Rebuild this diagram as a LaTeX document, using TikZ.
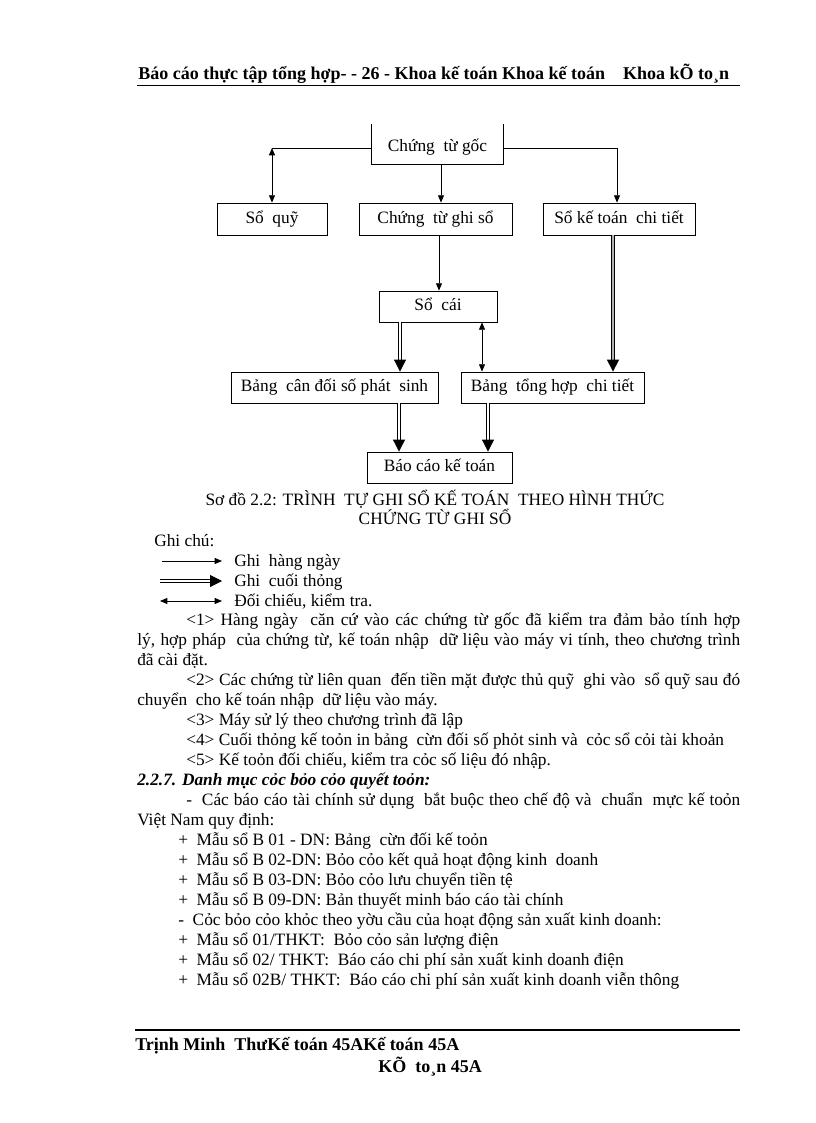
\documentclass[tikz,border=0pt]{standalone}
\usepackage{fontspec}
\setmainfont{Liberation Serif}
\usetikzlibrary{arrows.meta,calc}
\begin{document}
\begin{tikzpicture}[x=0.75pt,y=-0.75pt,
  box/.style={draw, line width=0.6pt, inner sep=0pt, text height=9pt, text depth=2.5pt, font=\fontsize{13}{15}\selectfont},
  nobox/.style={inner sep=0pt, text height=9pt, text depth=2.5pt, font=\fontsize{13}{15}\selectfont},
  plain/.style={line width=0.6pt},
  thinarr/.style={line width=0.6pt,-{Triangle[length=5.5pt,width=4.5pt]}},
  botharr/.style={line width=0.6pt,{Triangle[length=5.5pt,width=4.5pt]}-{Triangle[length=5.5pt,width=4.5pt]}},
  dblarr/.style={double, double distance=1.8pt, line width=0.6pt, -{Triangle[length=9pt,width=9pt]}},
  greyarr/.style={double=gray!60, double distance=1.6pt, line width=0.9pt, -{Triangle[length=9pt,width=9pt]}},
  txt/.style={anchor=base west, inner sep=0pt, font=\fontsize{13}{15}\selectfont},
  ctr/.style={anchor=base, inner sep=0pt, font=\fontsize{13}{15}\selectfont},
  hdr/.style={anchor=base west, inner sep=0pt, font=\fontsize{13.5}{16}\selectfont\bfseries},
]
\useasboundingbox (0,0) rectangle (816,1123);
\fill[white] (0,0) rectangle (816,1123);

% header
\node[hdr] (head) at (138,80) {Báo cáo thực tập tổng hợp- - 26 - Khoa kế toán Khoa kế toán\ \ \ \ Khoa kÕ to¸n};
\coordinate (hl1) at (137,85); \coordinate (hl2) at (740,85);
\draw[line width=0.6pt] (hl1) -- (hl2);

% diagram boxes
\node[nobox, minimum width=98.25pt, minimum height=24.75pt] (cg) at (437.5,147.5) {Chứng\ \ từ gốc};
\draw[plain] ([yshift=5pt]cg.north west) -- (cg.south west) -- (cg.south east) -- ([yshift=5pt]cg.north east);
\node[box, minimum width=82.5pt, minimum height=24pt] (sq) at (272,219) {Sổ\ \ quỹ};
\node[box, minimum width=114.75pt, minimum height=24pt] (ctgs) at (435.5,219) {Chứng\ \ từ ghi sổ};
\node[box, minimum width=114pt, minimum height=24pt] (sktct) at (619,219) {Sổ kế toán\ \ chi tiết};
\node[box, minimum width=88.5pt, minimum height=23.25pt] (sc) at (438,306.5) {Sổ\ \ cái};
\node[box, minimum width=155.25pt, minimum height=23.25pt] (bcd) at (334.5,387.5) {Bảng\ \ cân đối số phát\ \ sinh};
\node[box, minimum width=137.25pt, minimum height=23.25pt] (bth) at (552.5,387.5) {Bảng\ \ tổng hợp\ \ chi tiết};
\node[box, minimum width=108.75pt, minimum height=23.25pt] (bckt) at (439.5,467.5) {Báo cáo kế toán};

% connector coordinates
\coordinate (j1) at (272,148);
\coordinate (j2) at (441,0);
\coordinate (j3) at (617,148);
\coordinate (j4) at (439,0);
\coordinate (j5) at (400,0);
\coordinate (j6) at (482,0);
\coordinate (j7) at (613,0);
\coordinate (j8) at (399,0);
\coordinate (j9) at (488,0);

\draw[plain] (cg.west |- j1) -- (j1);
\draw[botharr] (j1) -- (j1 |- sq.north);
\draw[thinarr] (cg.south -| j2) -- (ctgs.north -| j2);
\draw[plain] (cg.east |- j3) -- (j3);
\draw[thinarr] (j3) -- (j3 |- sktct.north);
\draw[thinarr] (ctgs.south -| j4) -- (sc.north -| j4);
\draw[dblarr] (sc.south -| j5) -- (bcd.north -| j5);
\draw[botharr] (sc.south -| j6) -- (bth.north -| j6);
\draw[greyarr] (sktct.south -| j7) -- (bth.north -| j7);
\draw[dblarr] (bcd.south -| j8) -- (bckt.north -| j8);
\draw[dblarr] (bth.south -| j9) -- (bckt.north -| j9);

% caption
\node[ctr] (cap1) at (435,505) {Sơ đồ 2.2: TRÌNH\ \ TỰ GHI SỔ KẾ TOÁN\ \ THEO HÌNH THỨC};
\node[ctr] (cap2) at (435,524) {CHỨNG TỪ GHI SỔ};

% legend
\node[txt] (gc) at (154,546) {Ghi chú:};
\coordinate (la1) at (162,561); \coordinate (la2) at (222,561);
\coordinate (lb1) at (160,581); \coordinate (lb2) at (222,581);
\coordinate (lc1) at (160,601); \coordinate (lc2) at (222,601);
\draw[thinarr] (la1) -- (la2);
\draw[dblarr] (lb1) -- (lb2);
\draw[botharr] (lc1) -- (lc2);
\node[txt] (lg1) at (234,566) {Ghi\ \ hàng ngày};
\node[txt] (lg2) at (234,586) {Ghi\ \ cuối thỏng};
\node[txt] (lg3) at (234,606) {Đối chiếu, kiểm tra.};

% paragraphs
\node[txt] (p1) at (186,625) {\makebox[415.5pt][s]{<1> Hàng ngày\ \ căn cứ vào các chứng từ gốc đã kiểm tra đảm bảo tính hợp}};
\node[txt] (p2) at (137,645) {\makebox[452.25pt][s]{lý, hợp pháp\ \ của chứng từ, kế toán nhập\ \ dữ liệu vào máy vi tính, theo chương trình}};
\node[txt] (p3) at (137,665) {đã cài đặt.};
\node[txt] (p4) at (186,685) {\makebox[415.5pt][s]{<2> Các chứng từ liên quan\ \ đến tiền mặt được thủ quỹ\ \ ghi vào\ \ sổ quỹ sau đó}};
\node[txt] (p5) at (137,705) {chuyển\ \ cho kế toán nhập\ \ dữ liệu vào máy.};
\node[txt] (p6) at (186,725) {<3> Máy sử lý theo chương trình đã lập};
\node[txt] (p7) at (186,745) {<4> Cuối thỏng kế toỏn in bảng\ \ cừn đối số phỏt sinh và\ \ cỏc sổ cỏi tài khoản};
\node[txt] (p8) at (186,765) {<5> Kế toỏn đối chiếu, kiểm tra cỏc số liệu đó nhập.};
\node[txt, font=\fontsize{13}{15}\selectfont\bfseries\itshape] (h227) at (137,785) {2.2.7. Danh mục cỏc bỏo cỏo quyết toỏn:};
\node[txt] (q1) at (186,805) {\makebox[415.5pt][s]{-\ \ Các báo cáo tài chính sử dụng\ \ bắt buộc theo chế độ và\ \ chuẩn\ \ mực kế toỏn}};
\node[txt] (q2) at (137,825) {Việt Nam quy định:};
\node[txt] (q3) at (178,845) {+\ \ Mẫu sổ B 01 - DN: Bảng\ \ cừn đối kế toỏn};
\node[txt] (q4) at (178,865) {+\ \ Mẫu sổ B 02-DN: Bỏo cỏo kết quả hoạt động kinh\ \ doanh};
\node[txt] (q5) at (178,885) {+\ \ Mẫu sổ B 03-DN: Bỏo cỏo lưu chuyển tiền tệ};
\node[txt] (q6) at (178,905) {+\ \ Mẫu sổ B 09-DN: Bản thuyết minh báo cáo tài chính};
\node[txt] (q7) at (178,925) {-\ \ Cỏc bỏo cỏo khỏc theo yờu cầu của hoạt động sản xuất kinh doanh:};
\node[txt] (q8) at (178,945) {+\ \ Mẫu sổ 01/THKT:\ \ Bỏo cỏo sản lượng điện};
\node[txt] (q9) at (178,965) {+\ \ Mẫu sổ 02/ THKT:\ \ Báo cáo chi phí sản xuất kinh doanh điện};
\node[txt] (q10) at (178,985) {+\ \ Mẫu sổ 02B/ THKT:\ \ Báo cáo chi phí sản xuất kinh doanh viễn thông};

% footer
\coordinate (fl1) at (135,1030); \coordinate (fl2) at (740,1030);
\draw[line width=1.5pt] (fl1) -- (fl2);
\node[hdr] (f1) at (135,1050) {Trịnh Minh\ \ ThưKế toán 45AKế toán 45A};
\node[hdr] (f2) at (378,1072) {KÕ\ \ to¸n 45A};
\end{tikzpicture}
\end{document}
